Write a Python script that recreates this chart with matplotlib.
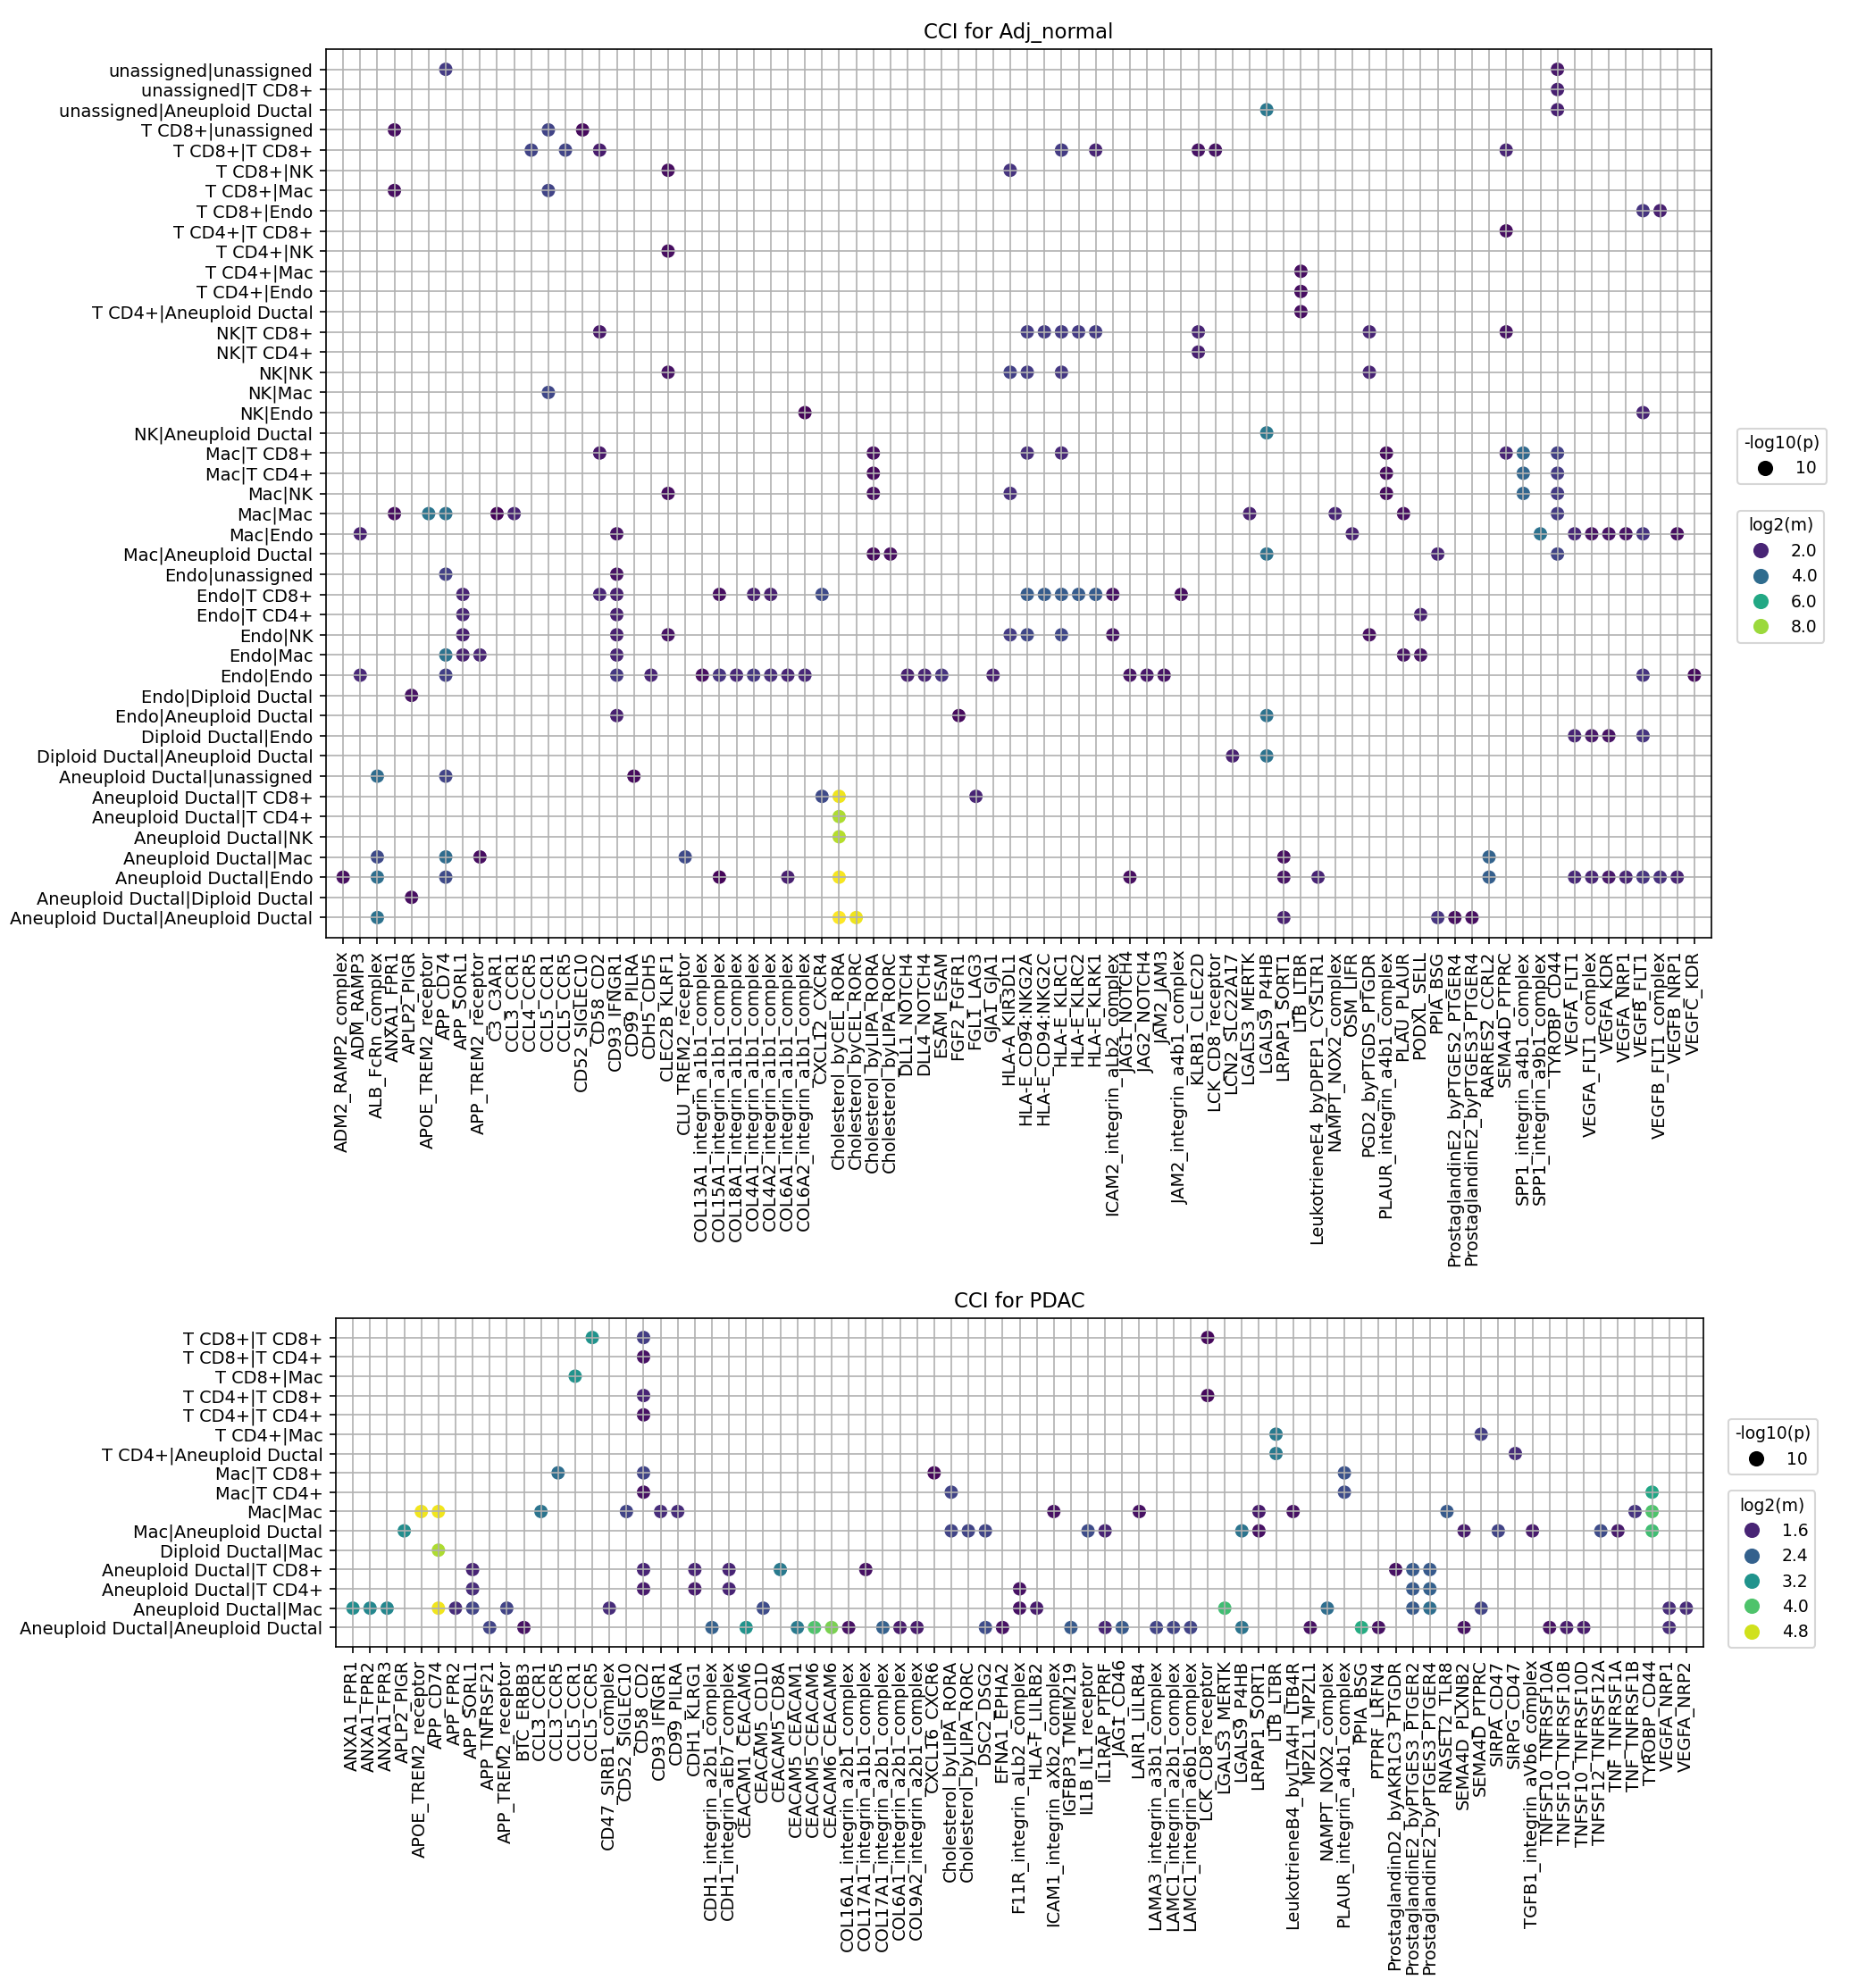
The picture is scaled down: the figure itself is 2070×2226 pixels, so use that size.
import matplotlib
matplotlib.use("Agg")
import matplotlib.pyplot as plt
from matplotlib.colors import Normalize
from matplotlib.lines import Line2D
import numpy as np

plt.rcParams['font.family'] = ['DejaVu Sans']

# ---------------- data: Adj_normal ----------------
top_pairs = [
    "unassigned|unassigned", "unassigned|T CD8+", "unassigned|Aneuploid Ductal",
    "T CD8+|unassigned", "T CD8+|T CD8+", "T CD8+|NK", "T CD8+|Mac", "T CD8+|Endo",
    "T CD4+|T CD8+", "T CD4+|NK", "T CD4+|Mac", "T CD4+|Endo", "T CD4+|Aneuploid Ductal",
    "NK|T CD8+", "NK|T CD4+", "NK|NK", "NK|Mac", "NK|Endo", "NK|Aneuploid Ductal",
    "Mac|T CD8+", "Mac|T CD4+", "Mac|NK", "Mac|Mac", "Mac|Endo", "Mac|Aneuploid Ductal",
    "Endo|unassigned", "Endo|T CD8+", "Endo|T CD4+", "Endo|NK", "Endo|Mac", "Endo|Endo",
    "Endo|Diploid Ductal", "Endo|Aneuploid Ductal",
    "Diploid Ductal|Endo", "Diploid Ductal|Aneuploid Ductal",
    "Aneuploid Ductal|unassigned", "Aneuploid Ductal|T CD8+", "Aneuploid Ductal|T CD4+",
    "Aneuploid Ductal|NK", "Aneuploid Ductal|Mac", "Aneuploid Ductal|Endo",
    "Aneuploid Ductal|Diploid Ductal", "Aneuploid Ductal|Aneuploid Ductal",
]
top_ligrec = [
    "ADM2_RAMP2_complex", "ADM_RAMP3", "ALB_FcRn_complex", "ANXA1_FPR1", "APLP2_PIGR",
    "APOE_TREM2_receptor", "APP_CD74", "APP_SORL1", "APP_TREM2_receptor", "C3_C3AR1",
    "CCL3_CCR1", "CCL4_CCR5", "CCL5_CCR1", "CCL5_CCR5", "CD52_SIGLEC10", "CD58_CD2",
    "CD93_IFNGR1", "CD99_PILRA", "CDH5_CDH5", "CLEC2B_KLRF1", "CLU_TREM2_receptor",
    "COL13A1_integrin_a1b1_complex", "COL15A1_integrin_a1b1_complex",
    "COL18A1_integrin_a1b1_complex", "COL4A1_integrin_a1b1_complex",
    "COL4A2_integrin_a1b1_complex", "COL6A1_integrin_a1b1_complex",
    "COL6A2_integrin_a1b1_complex", "CXCL12_CXCR4", "Cholesterol_byCEL_RORA",
    "Cholesterol_byCEL_RORC", "Cholesterol_byLIPA_RORA", "Cholesterol_byLIPA_RORC",
    "DLL1_NOTCH4", "DLL4_NOTCH4", "ESAM_ESAM", "FGF2_FGFR1", "FGL1_LAG3", "GJA1_GJA1",
    "HLA-A_KIR3DL1", "HLA-E_CD94:NKG2A", "HLA-E_CD94:NKG2C", "HLA-E_KLRC1", "HLA-E_KLRC2",
    "HLA-E_KLRK1", "ICAM2_integrin_aLb2_complex", "JAG1_NOTCH4", "JAG2_NOTCH4",
    "JAM2_JAM3", "JAM2_integrin_a4b1_complex", "KLRB1_CLEC2D", "LCK_CD8_receptor",
    "LCN2_SLC22A17", "LGALS3_MERTK", "LGALS9_P4HB", "LRPAP1_SORT1", "LTB_LTBR",
    "LeukotrieneE4_byDPEP1_CYSLTR1", "NAMPT_NOX2_complex", "OSM_LIFR",
    "PGD2_byPTGDS_PTGDR", "PLAUR_integrin_a4b1_complex", "PLAU_PLAUR", "PODXL_SELL",
    "PPIA_BSG", "ProstaglandinE2_byPTGES2_PTGER4", "ProstaglandinE2_byPTGES3_PTGER4",
    "RARRES2_CCRL2", "SEMA4D_PTPRC", "SPP1_integrin_a4b1_complex",
    "SPP1_integrin_a9b1_complex", "TYROBP_CD44", "VEGFA_FLT1", "VEGFA_FLT1_complex",
    "VEGFA_KDR", "VEGFA_NRP1", "VEGFB_FLT1", "VEGFB_FLT1_complex", "VEGFB_NRP1", "VEGFC_KDR",
]
# per pair (row): 1-based positions in top_ligrec, and log2(m) values
top_cols = [
    [7, 72], [72], [55, 72], [4, 13, 15], [12, 14, 16, 43, 45, 51, 52, 69], [20, 40],
    [4, 13], [77, 78], [69], [20], [57], [57], [57],
    [16, 41, 42, 43, 44, 45, 51, 61, 69], [51], [20, 40, 41, 43, 61], [13], [28, 77], [55],
    [16, 32, 41, 43, 62, 69, 70, 72], [32, 62, 70, 72], [20, 32, 40, 62, 70, 72],
    [4, 6, 7, 10, 11, 54, 59, 63, 72], [2, 17, 60, 71, 73, 74, 75, 76, 77, 79],
    [32, 33, 55, 65, 72], [7, 17],
    [8, 16, 17, 23, 25, 26, 29, 41, 42, 43, 44, 45, 46, 50], [8, 17, 64],
    [8, 17, 20, 40, 41, 43, 46, 61], [7, 8, 9, 17, 63, 64],
    [2, 7, 17, 19, 22, 23, 24, 25, 26, 27, 28, 34, 35, 36, 39, 47, 48, 49, 77, 80],
    [5], [17, 37, 55], [73, 74, 75, 77], [53, 55], [3, 7, 18], [29, 30, 38], [30], [30],
    [3, 7, 9, 21, 56, 68],
    [1, 3, 7, 23, 27, 30, 47, 56, 58, 68, 73, 74, 75, 76, 77, 78, 79],
    [5], [3, 30, 31, 56, 65, 66, 67],
]
top_vals = [
    [2.6, 1.7], [1.9], [4.4, 1.9], [1.5, 2.8, 1.4], [2.8, 2.8, 1.8, 2.6, 2.0, 1.6, 1.6, 2.0],
    [1.5, 2.4], [1.5, 2.8], [2.4, 1.9], [1.5], [1.5], [1.5], [1.5], [1.5],
    [1.7, 2.6, 2.6, 2.6, 2.6, 2.6, 2.0, 2.0, 1.6], [1.9], [1.6, 2.7, 2.6, 2.5, 2.0], [2.9],
    [1.3, 2.0], [4.4],
    [1.7, 1.5, 2.2, 2.1, 1.4, 2.0, 3.9, 2.7], [1.4, 1.4, 3.8, 2.6], [1.5, 1.5, 2.2, 1.4, 3.8, 2.6],
    [1.5, 4.3, 4.2, 1.3, 2.0, 1.9, 2.0, 1.5, 2.6], [1.9, 1.6, 1.9, 4.2, 2.1, 1.6, 1.6, 1.6, 2.4, 1.5],
    [1.4, 1.5, 4.2, 2.0, 2.8], [2.7, 1.6],
    [2.0, 2.0, 1.9, 1.5, 1.9, 1.9, 3.0, 3.5, 3.5, 3.5, 3.5, 3.5, 1.6, 1.5], [2.0, 1.9, 1.9],
    [1.9, 1.9, 1.6, 2.6, 2.9, 2.9, 1.6, 1.5], [4.2, 1.9, 2.0, 2.0, 1.6, 1.6],
    [2.1, 2.7, 2.5, 2.0, 1.5, 2.4, 2.1, 2.5, 2.2, 2.0, 2.1, 1.9, 2.0, 2.4, 1.9, 1.6, 1.7, 1.6, 2.4, 1.4],
    [1.6], [1.9, 1.4, 4.2], [2.0, 1.7, 1.6, 2.4], [1.9, 4.2], [4.0, 2.8, 1.4], [3.0, 9.0, 2.0],
    [8.2], [8.3], [3.0, 4.0, 1.5, 3.0, 1.5, 3.7],
    [1.5, 4.1, 3.0, 1.3, 1.9, 9.1, 1.5, 1.6, 2.0, 3.6, 2.1, 2.0, 1.7, 2.0, 2.4, 2.3, 2.0],
    [1.5], [4.2, 9.2, 9.0, 1.9, 2.4, 1.5, 1.5],
]
top_neglog10p = 10
top_m_range = (1.2, 9.2)
top_legend_m = [2.0, 4.0, 6.0, 8.0]

# ---------------- data: PDAC ----------------
bot_pairs = [
    "T CD8+|T CD8+", "T CD8+|T CD4+", "T CD8+|Mac", "T CD4+|T CD8+", "T CD4+|T CD4+",
    "T CD4+|Mac", "T CD4+|Aneuploid Ductal", "Mac|T CD8+", "Mac|T CD4+", "Mac|Mac",
    "Mac|Aneuploid Ductal", "Diploid Ductal|Mac", "Aneuploid Ductal|T CD8+",
    "Aneuploid Ductal|T CD4+", "Aneuploid Ductal|Mac", "Aneuploid Ductal|Aneuploid Ductal",
]
bot_ligrec = [
    "ANXA1_FPR1", "ANXA1_FPR2", "ANXA1_FPR3", "APLP2_PIGR", "APOE_TREM2_receptor",
    "APP_CD74", "APP_FPR2", "APP_SORL1", "APP_TNFRSF21", "APP_TREM2_receptor", "BTC_ERBB3",
    "CCL3_CCR1", "CCL3_CCR5", "CCL5_CCR1", "CCL5_CCR5", "CD47_SIRB1_complex",
    "CD52_SIGLEC10", "CD58_CD2", "CD93_IFNGR1", "CD99_PILRA", "CDH1_KLRG1",
    "CDH1_integrin_a2b1_complex", "CDH1_integrin_aEb7_complex", "CEACAM1_CEACAM6",
    "CEACAM5_CD1D", "CEACAM5_CD8A", "CEACAM5_CEACAM1", "CEACAM5_CEACAM6", "CEACAM6_CEACAM6",
    "COL16A1_integrin_a2b1_complex", "COL17A1_integrin_a1b1_complex",
    "COL17A1_integrin_a2b1_complex", "COL6A1_integrin_a2b1_complex",
    "COL9A2_integrin_a2b1_complex", "CXCL16_CXCR6", "Cholesterol_byLIPA_RORA",
    "Cholesterol_byLIPA_RORC", "DSC2_DSG2", "EFNA1_EPHA2", "F11R_integrin_aLb2_complex",
    "HLA-F_LILRB2", "ICAM1_integrin_aXb2_complex", "IGFBP3_TMEM219", "IL1B_IL1_receptor",
    "IL1RAP_PTPRF", "JAG1_CD46", "LAIR1_LILRB4", "LAMA3_integrin_a3b1_complex",
    "LAMC1_integrin_a2b1_complex", "LAMC1_integrin_a6b1_complex", "LCK_CD8_receptor",
    "LGALS3_MERTK", "LGALS9_P4HB", "LRPAP1_SORT1", "LTB_LTBR", "LeukotrieneB4_byLTA4H_LTB4R",
    "MPZL1_MPZL1", "NAMPT_NOX2_complex", "PLAUR_integrin_a4b1_complex", "PPIA_BSG",
    "PTPRF_LRFN4", "ProstaglandinD2_byAKR1C3_PTGDR", "ProstaglandinE2_byPTGES3_PTGER2",
    "ProstaglandinE2_byPTGES3_PTGER4", "RNASET2_TLR8", "SEMA4D_PLXNB2", "SEMA4D_PTPRC",
    "SIRPA_CD47", "SIRPG_CD47", "TGFB1_integrin_aVb6_complex", "TNFSF10_TNFRSF10A",
    "TNFSF10_TNFRSF10B", "TNFSF10_TNFRSF10D", "TNFSF12_TNFRSF12A", "TNF_TNFRSF1A",
    "TNF_TNFRSF1B", "TYROBP_CD44", "VEGFA_NRP1", "VEGFA_NRP2",
]
bot_cols = [
    [15, 18, 51], [18], [14], [18, 51], [18], [55, 67], [55, 69], [13, 18, 35, 59],
    [18, 36, 59, 77],
    [5, 6, 12, 17, 19, 20, 42, 47, 54, 56, 65, 76, 77],
    [4, 36, 37, 38, 44, 45, 53, 54, 66, 68, 70, 74, 75, 77],
    [6],
    [8, 18, 21, 23, 26, 31, 62, 63, 64],
    [8, 18, 21, 23, 40, 63, 64],
    [1, 2, 3, 6, 7, 8, 10, 16, 25, 40, 41, 52, 58, 63, 64, 67, 78, 79],
    [9, 11, 22, 24, 27, 28, 29, 30, 32, 33, 34, 38, 39, 43, 45, 46, 48, 49, 50, 53, 57, 60,
     61, 66, 71, 72, 73, 78],
]
bot_vals = [
    [3.2, 1.9, 1.3], [1.4], [3.2], [1.6, 1.3], [1.4], [2.8, 1.9], [2.8, 1.7], [2.6, 2.0, 1.3, 2.2],
    [1.4, 2.0, 2.1, 3.5],
    [5.0, 5.0, 2.7, 2.0, 1.7, 1.7, 1.4, 1.4, 1.5, 1.4, 2.3, 1.8, 4.0],
    [3.1, 2.0, 2.0, 2.0, 2.1, 1.6, 2.7, 1.4, 1.5, 2.0, 1.5, 2.1, 1.5, 3.9],
    [4.6],
    [1.6, 1.6, 1.6, 1.6, 2.8, 1.4, 1.4, 2.3, 2.3],
    [1.7, 1.5, 1.5, 1.6, 1.4, 2.3, 2.4],
    [3.1, 3.0, 3.0, 5.0, 1.7, 2.0, 2.0, 1.7, 2.1, 1.4, 1.5, 3.9, 2.6, 2.3, 2.6, 2.0, 1.7, 1.7],
    [2.0, 1.4, 2.4, 3.2, 2.8, 4.0, 4.3, 1.4, 2.4, 1.5, 1.5, 2.1, 1.4, 2.3, 1.6, 2.3, 2.0, 2.0,
     2.0, 2.7, 1.4, 3.6, 1.4, 1.4, 1.4, 1.5, 1.5, 1.7],
]
bot_neglog10p = 10
bot_m_range = (1.22, 5.08)
bot_legend_m = [1.6, 2.4, 3.2, 4.0, 4.8]

# ---------------- drawing ----------------
W, H, DPI = 2070, 2226, 150
fig = plt.figure(figsize=(W / DPI, H / DPI), dpi=DPI)
cmap = plt.get_cmap('viridis')
MS = 52  # marker area (pt^2)
TICK_FS = 9.3


def px_axes(l, t, r, b):
    return fig.add_axes([l / W, 1 - b / H, (r - l) / W, (b - t) / H])


def panel(ax, pairs, ligrec, cols, vals, mrange, title):
    xs, ys, cs = [], [], []
    for yi, (cl, vl) in enumerate(zip(cols, vals)):
        for c, v in zip(cl, vl):
            xs.append(c - 1)
            ys.append(yi)
            cs.append(v)
    norm = Normalize(vmin=mrange[0], vmax=mrange[1])
    ax.scatter(xs, ys, c=cs, cmap=cmap, norm=norm, s=MS, linewidths=0)
    ax.set_xticks(np.arange(len(ligrec)))
    ax.set_xticklabels(ligrec, rotation=90, fontsize=TICK_FS)
    ax.set_yticks(np.arange(len(pairs)))
    ax.set_yticklabels(pairs, fontsize=TICK_FS)
    ax.set_xlim(-1, len(ligrec))
    ax.set_ylim(len(pairs), -1)
    ax.grid(True)
    ax.set_title(title, fontsize=11)
    return norm


def legends(norm, pvalue, mvalues, x, y_size_bottom, y_hue_top):
    size_h = [Line2D([], [], marker='o', linestyle='', color='black',
                     markersize=np.sqrt(MS))]
    fig.legend(size_h, [str(pvalue)], title='-log10(p)', loc='lower left',
               bbox_to_anchor=(x / W, 1 - y_size_bottom / H), borderaxespad=0,
               fontsize=9, title_fontsize=9)
    hue_h = [Line2D([], [], marker='o', linestyle='', color=cmap(norm(v)),
                    markersize=np.sqrt(MS)) for v in mvalues]
    fig.legend(hue_h, [f"{v:.1f}" for v in mvalues], title='log2(m)', loc='upper left',
               bbox_to_anchor=(x / W, 1 - y_hue_top / H), borderaxespad=0,
               fontsize=9, title_fontsize=9)


ax1 = px_axes(365, 55, 1916, 1050)
n1 = panel(ax1, top_pairs, top_ligrec, top_cols, top_vals, top_m_range, "CCI for Adj_normal")
legends(n1, top_neglog10p, top_legend_m, 1945, 542, 572)

ax2 = px_axes(376, 1476, 1907, 1844)
n2 = panel(ax2, bot_pairs, bot_ligrec, bot_cols, bot_vals, bot_m_range, "CCI for PDAC")
legends(n2, bot_neglog10p, bot_legend_m, 1935, 1651, 1669)

fig.savefig("out.png", dpi=DPI)
